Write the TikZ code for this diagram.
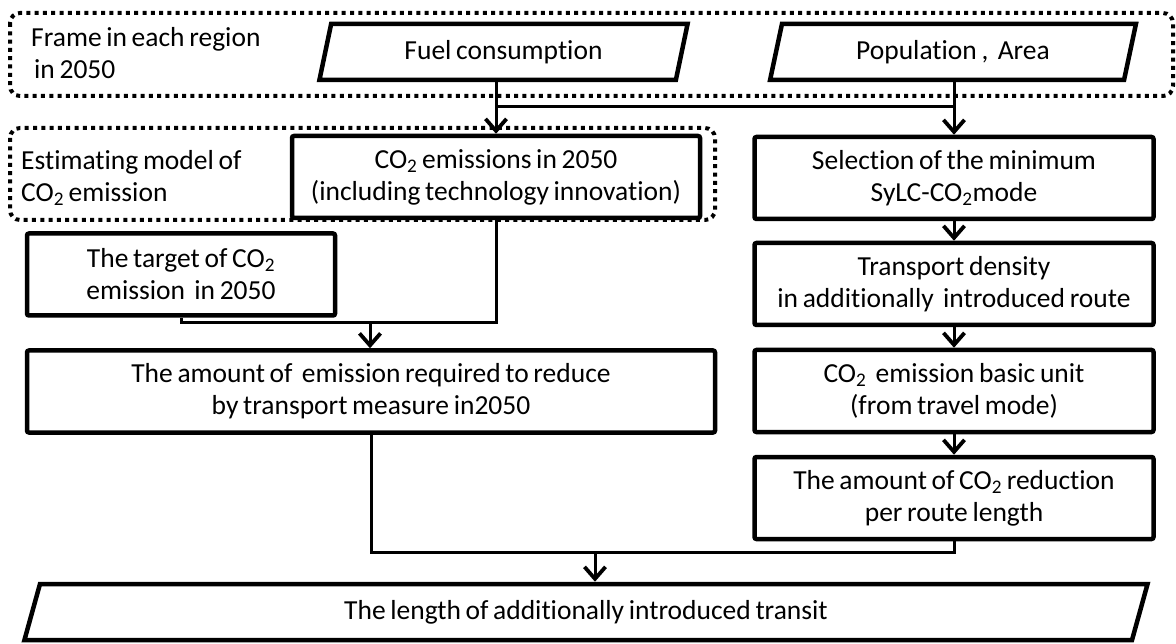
\documentclass[tikz,border=0pt]{standalone}
\usepackage{fontspec}
\setmainfont{Carlito}[WordSpace=0.75,Ligatures=NoCommon]
\usepackage{tikz}
\usetikzlibrary{arrows.meta,positioning,shapes.geometric}
\newcommand{\cotwo}{CO\textsubscript{2}}

\begin{document}
\begin{tikzpicture}[x=1pt,y=-1pt,
		font=\fontsize{27.5}{32}\selectfont,
		box/.style={draw,fill=white,line width=4.5pt,rounded corners=2pt,align=center,minimum height=82pt,inner sep=2pt},
		para/.style={draw,fill=white,trapezium,trapezium left angle=76,trapezium right angle=104,trapezium stretches=true,line width=4.5pt,minimum height=56pt,inner sep=2pt},
		frm/.style={draw,line width=4pt,dash pattern=on 4pt off 4.3pt,rounded corners=10pt},
		lbl/.style={anchor=west,align=left,inner sep=0pt},
		ln/.style={line width=3pt},
		arr/.style={ln,-{Straight Barb[length=12pt,width=21pt,line width=3.8pt]}}
	]
	\useasboundingbox (0,0) rectangle (1176,644);
	% dotted frames
	\draw[frm] (10,13) rectangle (1173,96);
	\draw[frm] (10,128) rectangle (715,220);
	\node[lbl] (frmlbl) at (31,53) {Frame in each region\\\hspace{3pt}in 2050};
	\node[lbl] (estlbl) at (21,178) {Estimating model of\\\cotwo{} emission};
	% inputs
	\node[para,minimum width=369pt] (fuel) at (503.5,52) {Fuel consumption};
	\node[para,minimum width=366pt] (pop) at (953,52) {Population ,\ \ Area};
	% left side
	\node[box,minimum width=408pt] (c50) at (496,177) {\cotwo{} emissions in 2050\\(including technology innovation)};
	\node[box,minimum width=308pt] (tgt) at (181,274.5) {The target of \cotwo{}\\emission\ \ in 2050};
	\node[box,minimum width=688pt] (amt) at (371,391.5) {The amount of\ \ emission required to reduce\\by transport measure in2050};
	% right side
	\node[box,minimum width=399pt] (sel) at (954,178) {Selection of the minimum\\SyLC-\cotwo{}mode};
	\node[box,minimum width=399pt,below=19.5pt of sel] (trd) {Transport density\\in additionally\ \ introduced route};
	\node[box,minimum width=399pt,below=20.5pt of trd] (unit) {\cotwo{}\ \ emission basic unit\\(from travel mode)};
	\node[box,minimum width=399pt,below=20.5pt of unit] (red) {The amount of \cotwo{} reduction\\per route length};
	% result
	\node[para,minimum width=1129pt] (fin) at (586,612) {The length of additionally introduced transit};
	% connectors
	\coordinate (fork) at (496,107);
	\coordinate (mrg1) at (370,323);
	\coordinate (mrg2) at (595,552);
	\draw[arr] (fuel.south -| c50.north) -- (c50.north);
	\draw[ln] (fork) -- (fork -| sel.north);
	\draw[arr] (pop.south -| sel.north) -- (sel.north);
	\draw[ln] (c50.south) |- (mrg1);
	\draw[ln] (tgt.south) |- (mrg1);
	\draw[arr] (mrg1) -- (mrg1 |- amt.north);
	\foreach \a/\b in {sel/trd,trd/unit,unit/red}
		\draw[arr] (\a) -- (\b);
	\draw[ln] (amt.south) |- (mrg2);
	\draw[ln] (red.south) |- (mrg2);
	\draw[arr] (mrg2) -- (mrg2 |- fin.north);
\end{tikzpicture}
\end{document}
